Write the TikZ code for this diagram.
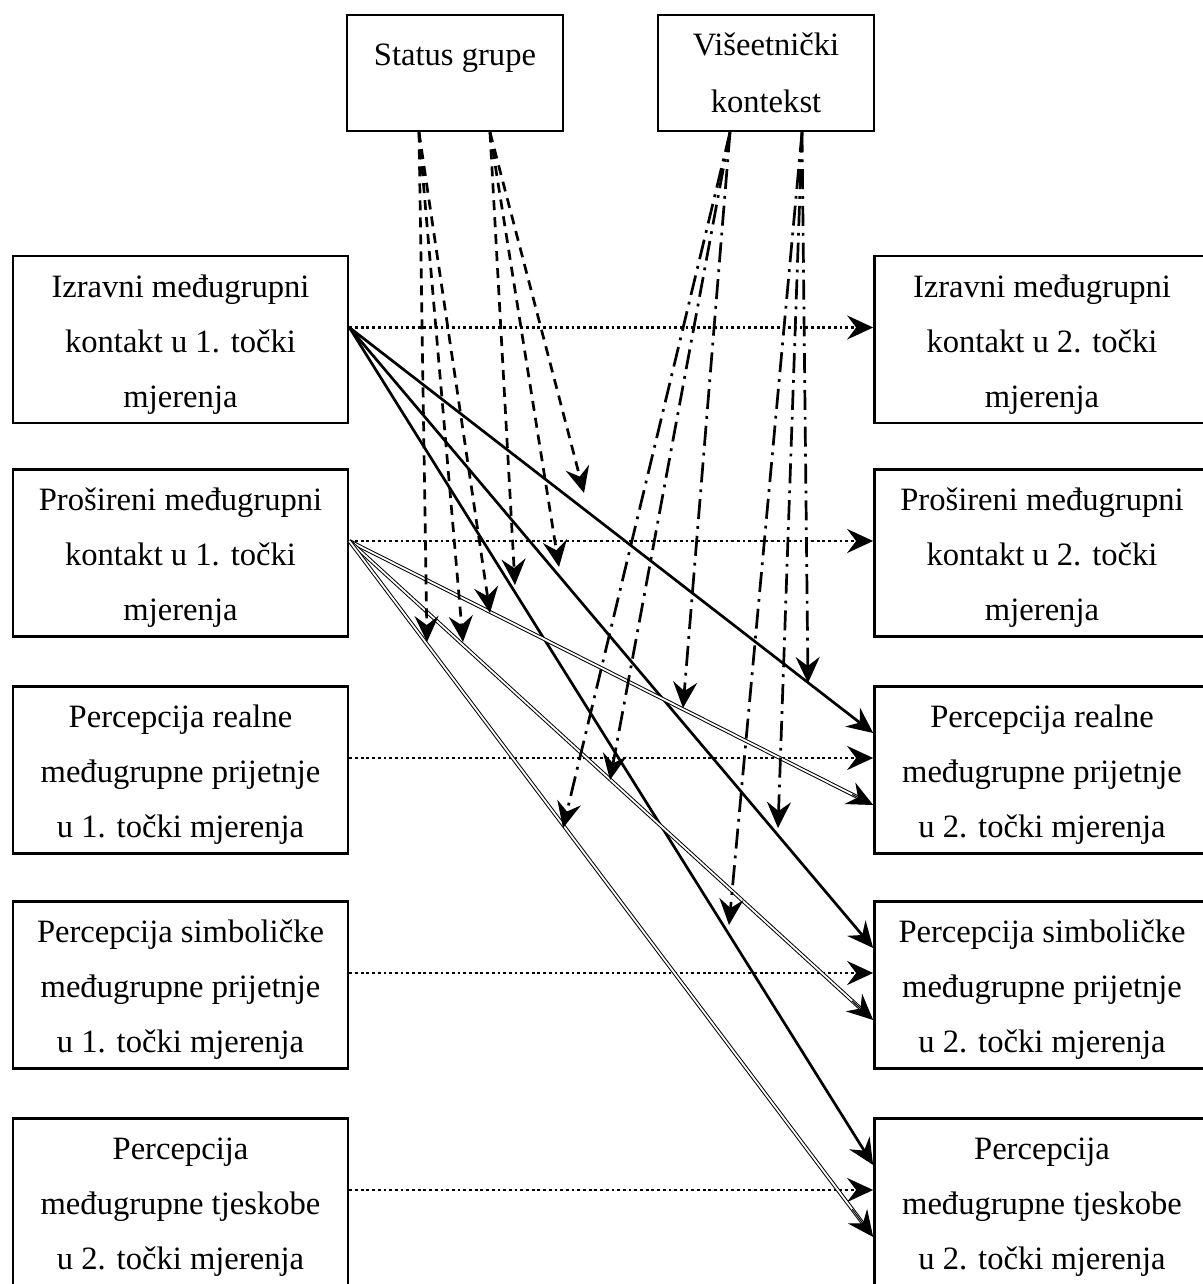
\documentclass[tikz,border=0pt]{standalone}
\usepackage{fontspec}
\setmainfont{Liberation Serif}
\usetikzlibrary{arrows.meta, positioning, calc}

\newcommand\lift{\rule{0pt}{16.3pt}}

\tikzset{
  box/.style={draw, line width=1.35pt, align=center, inner sep=0pt,
    minimum width=167.5pt, minimum height=83.5pt,
    font=\fontsize{16.3pt}{27.5pt}\selectfont},
  topbox/.style={draw, line width=1.35pt, inner sep=0pt,
    minimum width=108pt, minimum height=58pt,
    font=\fontsize{16.3pt}{28.5pt}\selectfont},
  arr/.style={-{Stealth[length=13pt, width=12pt, inset=4.5pt]}},
  dotline/.style={arr, line width=1.4pt, dash pattern=on 1.4pt off 1.45pt},
  solidline/.style={arr, line width=1.35pt},
  dblline/.style={double, line width=0.5pt, double distance=0.9pt, shorten >=8pt},
  dbltip/.style={arr, line width=0.5pt},
  dashline/.style={arr, line width=1.35pt, dash pattern=on 5pt off 3.5pt},
  dashdotline/.style={arr, line width=1.35pt, dash pattern=on 10pt off 3.5pt on 1.4pt off 3.5pt},
}

\begin{document}
\begin{tikzpicture}[x=0.5pt, y=-0.5pt]
  \useasboundingbox (0,0) rectangle (1203,1284);

  % Moderators
  \node[topbox, text depth=18pt] (status) at (455,73) {Status grupe};
  \node[topbox, align=center] (multi) at (766,73) {Višeetnički\\kontekst};

  % First measurement
  \node[box] (l1) at (180.5,339.5) {\lift Izravni međugrupni\\kontakt u 1. točki\\mjerenja};
  \node[box] (l2) at (180.5,553) {\lift Prošireni međugrupni\\kontakt u 1. točki\\mjerenja};
  \node[box] (l3) at (180.5,770) {\lift Percepcija realne\\međugrupne prijetnje\\u 1. točki mjerenja};
  \node[box] (l4) at (180.5,985) {\lift Percepcija simboličke\\međugrupne prijetnje\\u 1. točki mjerenja};
  \node[box] (l5) at (180.5,1202) {\lift Percepcija\\međugrupne tjeskobe\\u 2. točki mjerenja};

  % Second measurement
  \node[box] (r1) at (1042,339.5) {\lift Izravni međugrupni\\kontakt u 2. točki\\mjerenja};
  \node[box] (r2) at (1042,553) {\lift Prošireni međugrupni\\kontakt u 2. točki\\mjerenja};
  \node[box] (r3) at (1042,770) {\lift Percepcija realne\\međugrupne prijetnje\\u 2. točki mjerenja};
  \node[box] (r4) at (1042,985) {\lift Percepcija simboličke\\međugrupne prijetnje\\u 2. točki mjerenja};
  \node[box] (r5) at (1042,1202) {\lift Percepcija\\međugrupne tjeskobe\\u 2. točki mjerenja};

  % Stability paths
  \foreach \i in {1,...,5}
    \draw[dotline] ($(l\i.east)+(0,-12)$) -- ($(r\i.west)+(0,-12)$);

  % Cross-lagged paths
  \coordinate (dir) at ($(l1.east)+(0,-12)$);
  \coordinate (ext) at ($(l2.east)+(0,-12)$);
  \foreach \j in {3,4,5}
    \draw[solidline] (dir) -- ($(r\j.west)+(0,-37)$);
  \foreach \j in {3,4,5} {
    \coordinate (e\j) at ($(r\j.west)+(0,35)$);
    \draw[dblline] (ext) -- (e\j);
    \draw[dbltip] ($(ext)!0.96!(e\j)$) -- (e\j);
  }

  % Moderation by group status
  \coordinate (sa) at ($(status.south)+(-36,0)$);
  \coordinate (sb) at ($(status.south)+(35,0)$);
  \foreach \n/\x/\y in {1/427/642, 2/463/642, 3/490/613, 4/515/585, 5/559/567, 6/584/493}
    \coordinate (sg\n) at (\x,\y);
  \foreach \n in {1,2,3}
    \draw[dashline] (sa) -- (sg\n);
  \foreach \n in {4,5,6}
    \draw[dashline] (sb) -- (sg\n);

  % Moderation by multiethnic context
  \coordinate (ma) at ($(multi.south)+(-36,0)$);
  \coordinate (mb) at ($(multi.south)+(36,0)$);
  \foreach \n/\x/\y in {1/563/828, 2/610/780, 3/683/708, 4/729/925, 5/778/828, 6/808/683}
    \coordinate (vk\n) at (\x,\y);
  \foreach \n in {1,2,3}
    \draw[dashdotline] (ma) -- (vk\n);
  \foreach \n in {4,5,6}
    \draw[dashdotline] (mb) -- (vk\n);
\end{tikzpicture}
\end{document}
